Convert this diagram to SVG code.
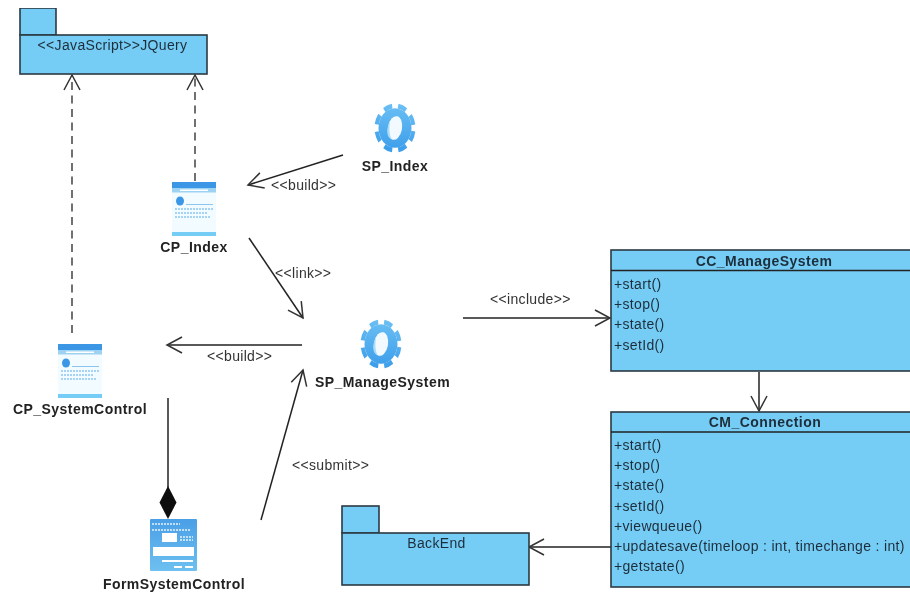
<svg xmlns="http://www.w3.org/2000/svg" width="910" height="592" viewBox="0 0 910 592">
<style>
text{font-family:"Liberation Sans",Arial,sans-serif;fill:#1f2d3a}
.b{fill:#75cdf5;stroke:#2b3a42;stroke-width:1.6}
.l{stroke:#222;stroke-width:1.5;fill:none}
.d{stroke:#222;stroke-width:1.3;fill:none;stroke-dasharray:8 5.500}
.t,.m,.c{font-size:14px;letter-spacing:.33px}
.n,.h{font-size:14px;letter-spacing:.45px;font-weight:bold;text-anchor:middle}
.n{fill:#222}
.c{fill:#333}
</style>
<defs>
<filter id="soft" x="0" y="0" width="100%" height="100%"><feGaussianBlur stdDeviation="0.45"/></filter>
<marker id="o" markerUnits="userSpaceOnUse" markerWidth="20" markerHeight="20" refX="17" refY="10" orient="auto" overflow="visible"><path d="M2,2 L17,10 L2,18" fill="none" stroke="#333" stroke-width="1.5"/></marker>
<linearGradient id="g" gradientUnits="userSpaceOnUse" x1="0" y1="-21" x2="0" y2="21"><stop offset="0" stop-color="#6cc0f4"/><stop offset="1" stop-color="#3a9cea"/></linearGradient>
<linearGradient id="f" x1="0" y1="0" x2="0" y2="1"><stop offset="0" stop-color="#4a9fe6"/><stop offset="1" stop-color="#6ec0f0"/></linearGradient>
<g id="gear">
<circle r="16.500" fill="url(#g)"/>
<circle r="18.500" fill="none" stroke="url(#g)" stroke-width="4" stroke-dasharray="8.500 6.030" transform="rotate(8)"/>
<ellipse rx="7" ry="10" fill="#f2faff" transform="rotate(14)"/>
<path d="M-6,-4 C-9,3 -6,10 -1,10 C-4,7 -6,2 -6,-4Z" fill="#a9dcf8" transform="rotate(14)"/>
</g>
<g id="page">
<rect width="44" height="54" fill="#f2fbff"/>
<rect width="44" height="6" fill="#3a97e6"/>
<rect y="6" width="44" height="4.500" fill="#9ed2f3"/>
<rect x="8" y="7.500" width="28" height="1.500" fill="#fff"/>
<ellipse cx="8" cy="19" rx="4" ry="4.500" fill="#3a97e6"/>
<rect x="14" y="22" width="27" height="1" fill="#8cc6ef"/>
<path d="M3 27H41M3 31H36M3 35H38" stroke="#8cc6ef" stroke-width="1.500" stroke-dasharray="2 1"/>
<rect y="50" width="44" height="4" fill="#75cdf5"/>
</g>
</defs>
<rect width="910" height="592" fill="#fff"/>
<g filter="url(#soft)">
<g id="connectors">
<path class="d" d="M72,333V75" marker-end="url(#o)"/>
<path class="d" d="M195,181V75" marker-end="url(#o)"/>
<path class="l" d="M343,155L248,185" marker-end="url(#o)"/>
<path class="l" d="M249,238L303,318" marker-end="url(#o)"/>
<path class="l" d="M463,318H610" marker-end="url(#o)"/>
<path class="l" d="M302,345H167" marker-end="url(#o)"/>
<path class="l" d="M168,398V488"/>
<path d="M168,486L176.500,502.500L168,519L159.500,502.500Z" fill="#111"/>
<path class="l" d="M261,520L303,370" marker-end="url(#o)"/>
<path class="l" d="M759,372V411" marker-end="url(#o)"/>
<path class="l" d="M611,547H529" marker-end="url(#o)"/>
<text class="c" x="271" y="190">&lt;&lt;build&gt;&gt;</text>
<text class="c" x="275" y="278">&lt;&lt;link&gt;&gt;</text>
<text class="c" x="490" y="304">&lt;&lt;include&gt;&gt;</text>
<text class="c" x="207" y="361">&lt;&lt;build&gt;&gt;</text>
<text class="c" x="292" y="470">&lt;&lt;submit&gt;&gt;</text>
</g>
<g id="jquery">
<rect class="b" x="20" y="8" width="36" height="27"/>
<rect class="b" x="20" y="35" width="187" height="39"/>
<text class="t" x="112.500" y="50" text-anchor="middle">&lt;&lt;JavaScript&gt;&gt;JQuery</text>
</g>
<g id="sp-index"><use href="#gear" transform="translate(395,128) scale(1,1.200)"/><text class="n" x="395" y="171">SP_Index</text></g>
<g id="cp-index"><use href="#page" x="172" y="182"/><text class="n" x="194" y="252">CP_Index</text></g>
<g id="cp-systemcontrol"><use href="#page" x="58" y="344"/><text class="n" x="80" y="414">CP_SystemControl</text></g>
<g id="sp-managesystem"><use href="#gear" transform="translate(381,344) scale(1,1.200)"/><text class="n" x="382.500" y="387">SP_ManageSystem</text></g>
<g id="formsystemcontrol">
<rect x="150" y="519" width="47" height="52" rx="1" fill="url(#f)"/>
<path d="M152,524H180M152,530H190" stroke="#e6f5fd" stroke-width="1.500" stroke-dasharray="2 1"/>
<rect x="162" y="533" width="15" height="9" fill="#fff"/>
<path d="M180,537H193M180,540H193" stroke="#e6f5fd" stroke-width="1.500" stroke-dasharray="2 1"/>
<rect x="153" y="547" width="41" height="9" fill="#fff"/>
<rect x="162" y="560" width="31" height="2" fill="#fff"/>
<rect x="174" y="566" width="8" height="2" fill="#fff"/>
<rect x="185" y="566" width="8" height="2" fill="#fff"/>
<text class="n" x="174" y="589">FormSystemControl</text>
</g>
<g id="cc-managesystem">
<rect class="b" x="611" y="250" width="301" height="121"/>
<path class="l" d="M611,270.500H910"/>
<text class="h" x="764" y="266">CC_ManageSystem</text>
<text class="m" x="614" y="289">+start()</text>
<text class="m" x="614" y="309">+stop()</text>
<text class="m" x="614" y="329">+state()</text>
<text class="m" x="614" y="350">+setId()</text>
</g>
<g id="cm-connection">
<rect class="b" x="611" y="412" width="301" height="175"/>
<path class="l" d="M611,432H910"/>
<text class="h" x="765" y="427">CM_Connection</text>
<text class="m" x="614" y="450">+start()</text>
<text class="m" x="614" y="470">+stop()</text>
<text class="m" x="614" y="490">+state()</text>
<text class="m" x="614" y="511">+setId()</text>
<text class="m" x="614" y="531">+viewqueue()</text>
<text class="m" x="614" y="551">+updatesave(timeloop : int, timechange : int)</text>
<text class="m" x="614" y="571">+getstate()</text>
</g>
<g id="backend">
<rect class="b" x="342" y="506" width="37" height="27"/>
<rect class="b" x="342" y="533" width="187" height="52"/>
<text class="t" x="436.500" y="548" text-anchor="middle">BackEnd</text>
</g>
</g>
</svg>
